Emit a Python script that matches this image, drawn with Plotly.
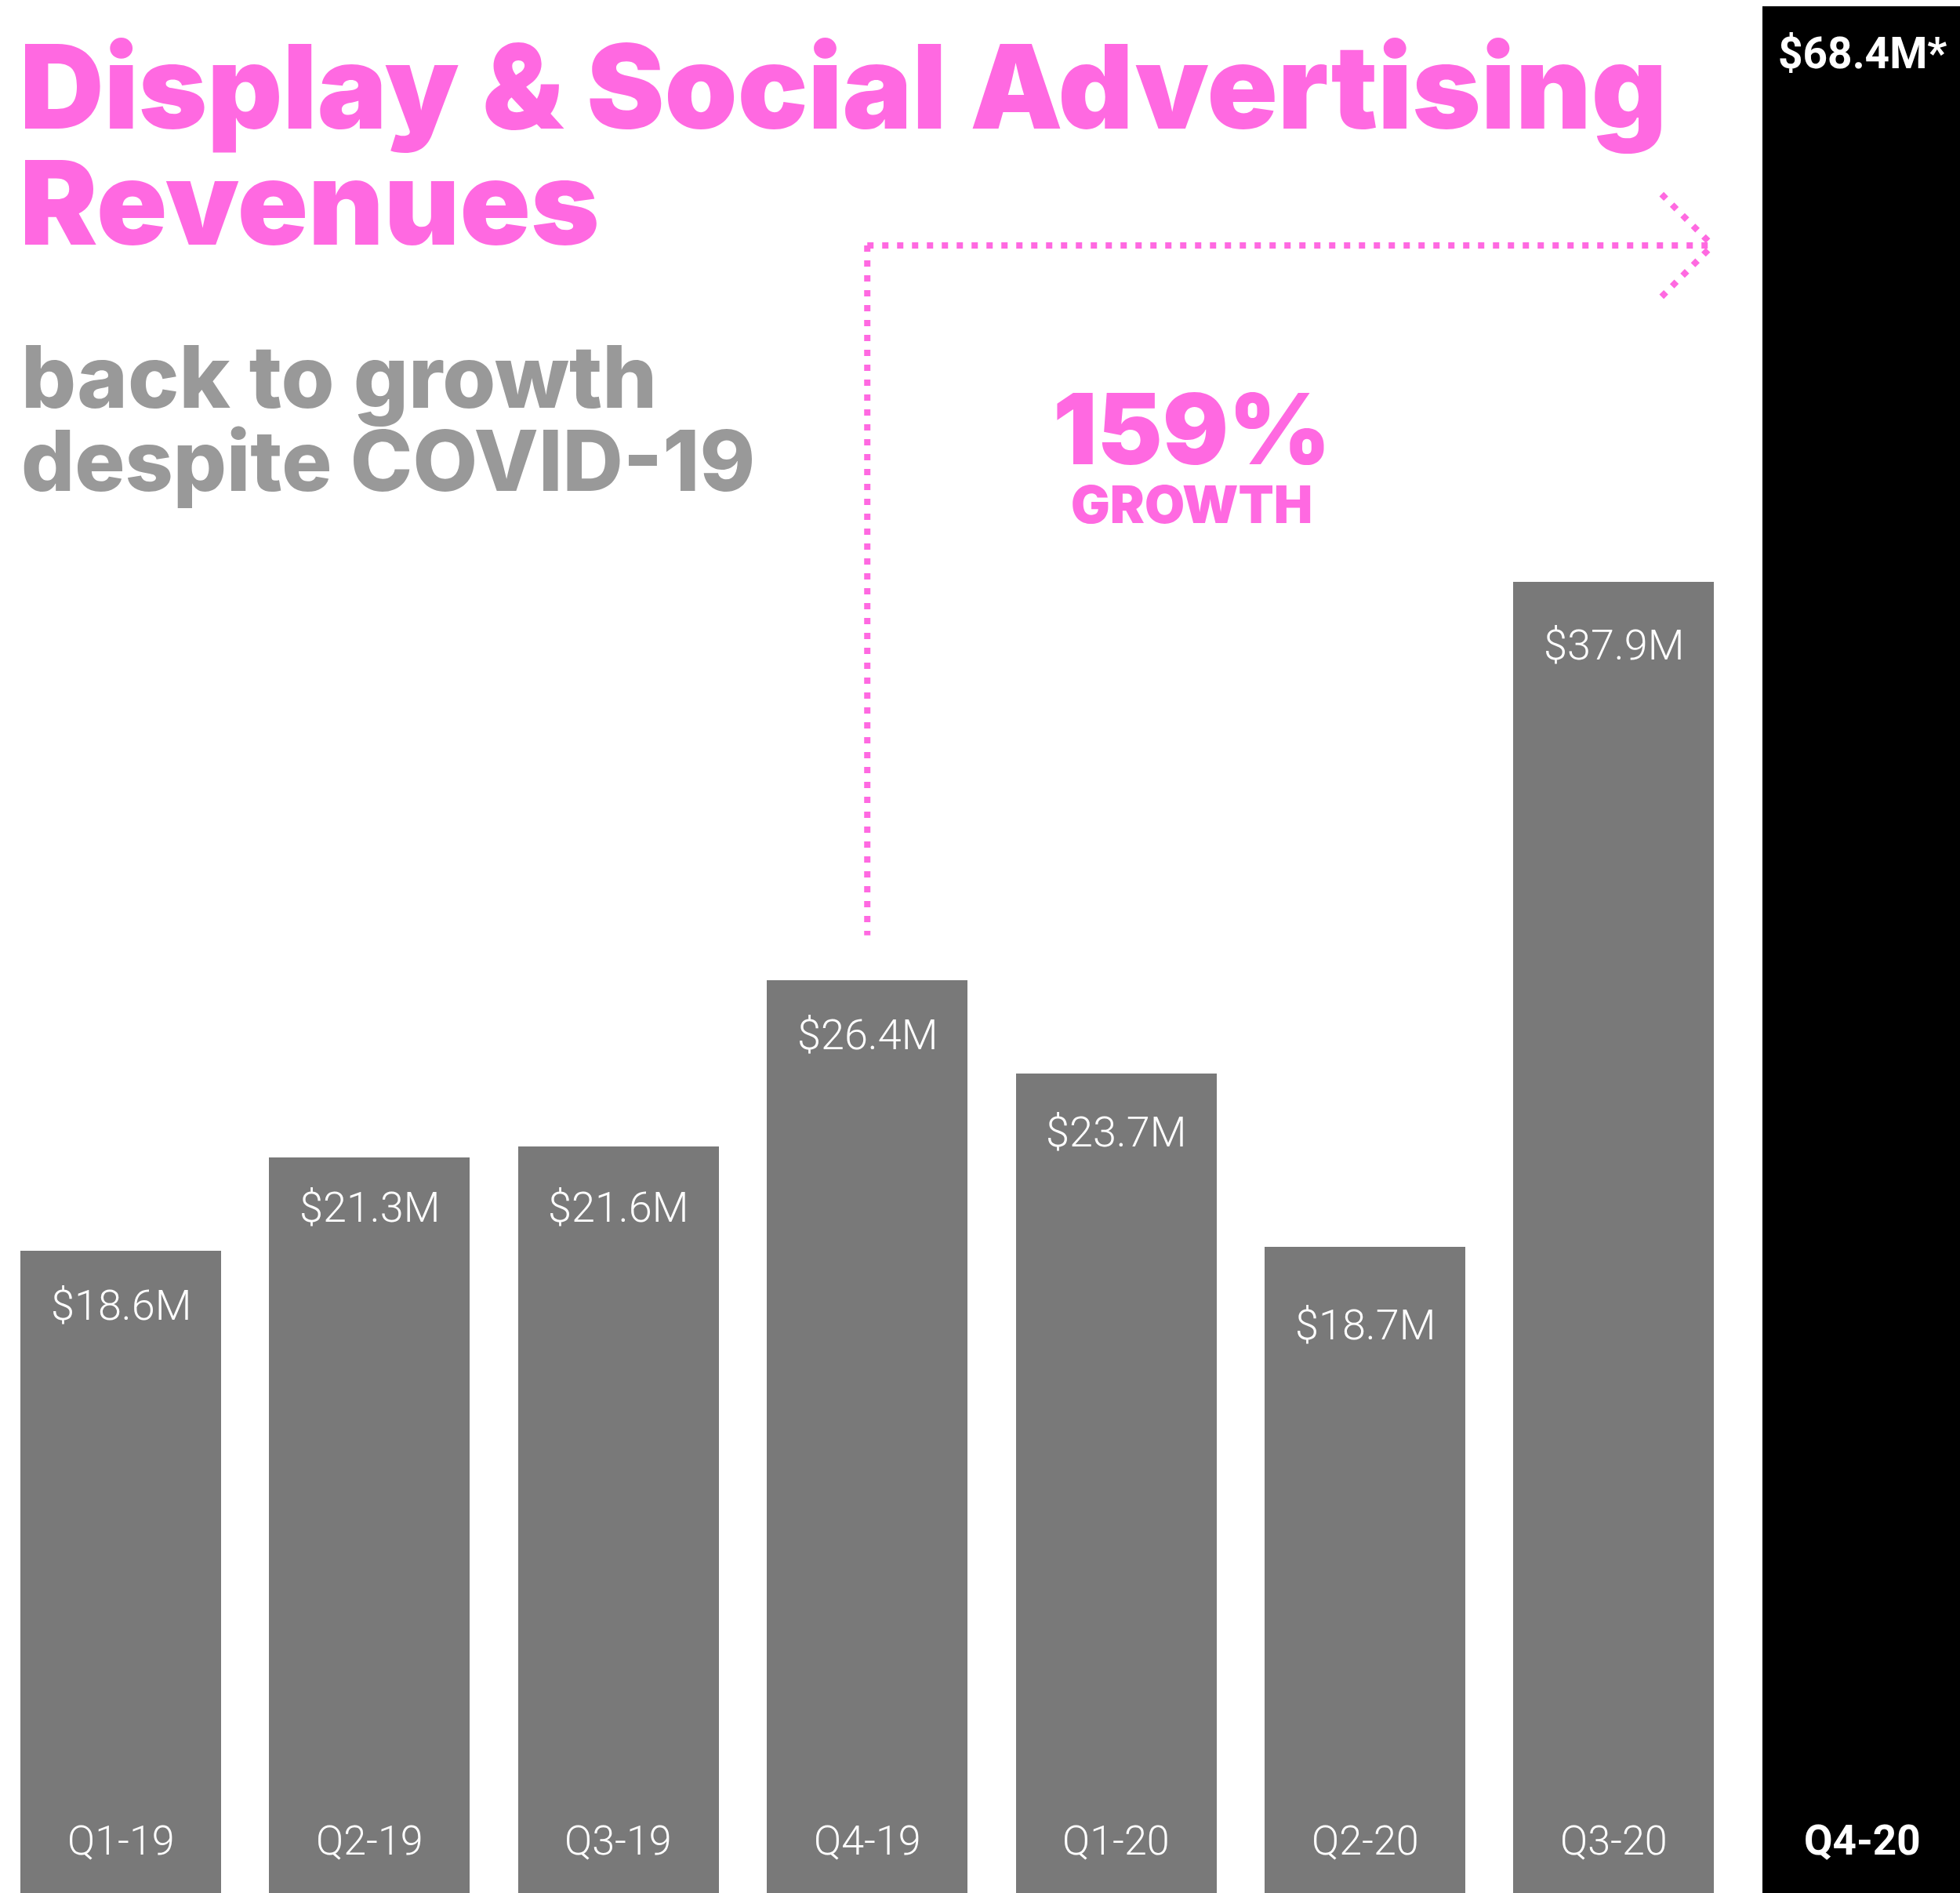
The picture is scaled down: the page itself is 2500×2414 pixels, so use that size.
import plotly.graph_objects as go

# Quarterly display & social advertising revenue, $ millions
quarters = ["Q1-19", "Q2-19", "Q3-19", "Q4-19", "Q1-20", "Q2-20", "Q3-20", "Q4-20"]
revenue_musd = [18.6, 21.3, 21.6, 26.4, 23.7, 18.7, 37.9, 68.4]
label_suffix = ["", "", "", "", "", "", "", "*"]
growth_pct = 159

# styling
W, H = 2500, 2414
PINK = "#FF69E1"
GREY_TEXT = "#999999"
BAR_GREY = "#797979"
BAR_HIGHLIGHT = "#000000"
TITLE_FONT = "Inter"
BODY_FONT = "Roboto"

n = len(quarters)
xs = list(range(n))
bar_colors = [BAR_GREY] * (n - 1) + [BAR_HIGHLIGHT]
bar_width = 0.8066

# vertical pixel drop of each value label below its bar top
label_drop_px = [70, 64, 77, 69, 74, 99, 81]

top_gap_px = 8
y_range = [0.07, 54.50]
x_range = [-0.4852, 7.391]

fig = go.Figure()
fig.add_trace(go.Bar(
    x=xs,
    y=revenue_musd,
    width=bar_width,
    marker=dict(color=bar_colors, line=dict(width=0)),
    hoverinfo="skip",
    showlegend=False,
))

annotations = []


def px_x(px):
    return px / W


def px_y(py):
    return 1 - py / H


# headline
annotations.append(dict(
    text="Display & Social Advertising", xref="paper", yref="paper",
    x=px_x(23), y=px_y(110), xanchor="left", yanchor="middle", showarrow=False,
    font=dict(family=TITLE_FONT, size=149, color=PINK, weight=900),
))
annotations.append(dict(
    text="Revenues", xref="paper", yref="paper",
    x=px_x(23), y=px_y(258), xanchor="left", yanchor="middle", showarrow=False,
    font=dict(family=TITLE_FONT, size=149, color=PINK, weight=900),
))
# sub-headline
annotations.append(dict(
    text="back to growth", xref="paper", yref="paper",
    x=px_x(25), y=px_y(480), xanchor="left", yanchor="middle", showarrow=False,
    font=dict(family=TITLE_FONT, size=110, color=GREY_TEXT, weight=800),
))
annotations.append(dict(
    text="despite COVID-19", xref="paper", yref="paper",
    x=px_x(25), y=px_y(587), xanchor="left", yanchor="middle", showarrow=False,
    font=dict(family=TITLE_FONT, size=107, color=GREY_TEXT, weight=800),
))
# growth callout
annotations.append(dict(
    text=f"{growth_pct}%", xref="paper", yref="paper",
    x=px_x(1520), y=px_y(546), xanchor="center", yanchor="middle", showarrow=False,
    font=dict(family=TITLE_FONT, size=125, color=PINK, weight=900),
))
annotations.append(dict(
    text="GROWTH", xref="paper", yref="paper",
    x=px_x(1520), y=px_y(643), xanchor="center", yanchor="middle", showarrow=False,
    font=dict(family=TITLE_FONT, size=66, color=PINK, weight=900),
))

# value labels inside the bars
for i, (q, v) in enumerate(zip(quarters, revenue_musd)):
    text = f"${v:.1f}M{label_suffix[i]}"
    if i < n - 1:
        annotations.append(dict(
            text=text, x=xs[i], y=v, xref="x", yref="y",
            xanchor="center", yanchor="middle", yshift=-label_drop_px[i],
            showarrow=False,
            font=dict(family=BODY_FONT, size=54, color="white", weight=300),
        ))
    else:
        # the last bar runs off the top of the plot; label sits at its visible top
        annotations.append(dict(
            text=f"<b>{text}</b>", x=xs[i], y=1, xref="x", yref="y domain",
            xanchor="center", yanchor="middle", yshift=-(68 - top_gap_px),
            showarrow=False,
            font=dict(family=BODY_FONT, size=55, color="white", weight=700),
        ))
    # quarter labels along the bottom of each bar
    qtext = f"<b>{q}</b>" if i == n - 1 else q
    annotations.append(dict(
        text=qtext, x=xs[i], y=0, xref="x", yref="y domain",
        xanchor="center", yanchor="middle", yshift=67, showarrow=False,
        font=dict(family=BODY_FONT, size=53 if i == n - 1 else 52, color="white",
                  weight=700 if i == n - 1 else 300),
    ))

# dotted elbow arrow from Q4-19 to Q4-20
start_i = quarters.index("Q4-19")
end_i = quarters.index("Q4-20")
arrow_y = 47.6
arrow_bottom = revenue_musd[start_i] + 1.3
tip_x = end_i - bar_width / 2 - 0.2
head_dx = 0.205
head_dy = 1.48
dot = dict(color=PINK, width=8, dash="8px,11px")
shapes = [
    dict(type="line", xref="x", yref="y", x0=start_i, x1=start_i,
         y0=arrow_y, y1=arrow_bottom, line=dot),
    dict(type="line", xref="x", yref="y", x0=start_i, x1=tip_x,
         y0=arrow_y, y1=arrow_y, line=dot),
    dict(type="line", xref="x", yref="y", x0=tip_x - head_dx, x1=tip_x,
         y0=arrow_y + head_dy, y1=arrow_y, line=dot),
    dict(type="line", xref="x", yref="y", x0=tip_x - head_dx, x1=tip_x,
         y0=arrow_y - head_dy, y1=arrow_y, line=dot),
]

fig.update_layout(
    width=W, height=H,
    margin=dict(l=0, r=0, t=0, b=0, pad=0),
    paper_bgcolor="white", plot_bgcolor="white",
    xaxis=dict(range=x_range, visible=False, fixedrange=True),
    yaxis=dict(range=y_range, domain=[0, 1 - top_gap_px / H], visible=False,
               fixedrange=True),
    bargap=0,
    annotations=annotations,
    shapes=shapes,
    showlegend=False,
)

fig.write_html("out.html", config={"displayModeBar": False})
